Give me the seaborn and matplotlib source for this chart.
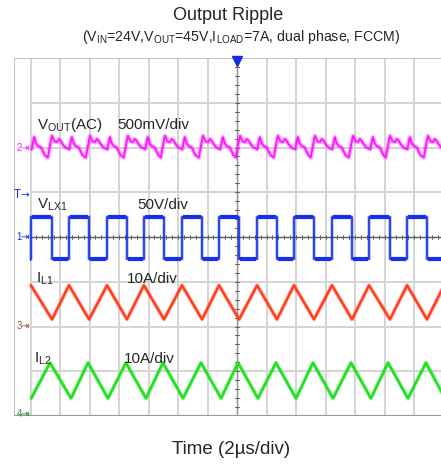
import numpy as np
import pandas as pd
import matplotlib
matplotlib.use("Agg")
import matplotlib.pyplot as plt
import seaborn as sns

# ---------------- data (time in µs, 0 = trigger point) ----------------
vlx1_rise_us = [-13.97, -11.39, -8.81, -6.31, -3.73, -1.22, 1.36, 3.86, 6.44, 8.95, 11.53]
vlx1_fall_us = [-12.54, -10.03, -7.46, -4.95, -2.37, 0.14, 2.71, 5.22, 7.80, 10.37, 12.88]
vlx1_high_v = 22.5
vlx1_low_v = -24.5

il1_peak_us = [-13.97, -11.39, -8.81, -6.31, -3.73, -1.22, 1.36, 3.86, 6.44, 8.95, 11.53, 14.05]
il1_valley_us = [-12.54, -10.03, -7.46, -4.95, -2.37, 0.14, 2.71, 5.22, 7.80, 10.37, 12.88]
il1_peak_a = 9.2
il1_valley_a = 1.6

il2_peak_us = [-12.68, -10.10, -7.53, -5.02, -2.44, 0.07, 2.64, 5.15, 7.73, 10.24, 12.81]
il2_valley_us = [-13.95, -11.25, -8.75, -6.17, -3.66, -1.08, 1.42, 4.00, 6.51, 9.08, 11.59, 14.10]
il2_peak_a = 11.9
il2_valley_a = 3.95

# output ripple: shape of one switching period (offset from each anchor)
ripple_anchor_us = [-15.23, -12.68, -10.10, -7.53, -5.02, -2.44, 0.07, 2.64, 5.15, 7.73, 10.24, 12.81]
ripple_offset_us = [-0.15, 0.10, 0.14, 0.30, 0.47, 0.60, 0.70, 0.85, 1.04, 1.31, 1.45, 1.49, 1.60, 1.72, 1.95, 2.20]
ripple_mv = [-112, 110, 130, 70, 60, 95, 80, 40, 0, -20, 100, 115, 50, 20, 0, -85]

# channel settings: (marker position in divisions, units per division)
ch2_pos, ch2_scale = 6.0, 500.0   # mV/div
ch1_pos, ch1_scale = 4.0, 50.0    # V/div
ch3_pos, ch3_scale = 2.0, 10.0    # A/div
ch4_pos, ch4_scale = 0.0, 10.0    # A/div
trig_level_div = 4.94

T_START, T_END = -14.0, 13.9

# ---------------- build traces ----------------
def triangle(peaks, valleys, vpk, vvl):
    pts = sorted([(t, vpk) for t in peaks] + [(t, vvl) for t in valleys])
    return [p[0] for p in pts], [p[1] for p in pts]

# VLX1 square wave
edges = sorted([(t, vlx1_high_v) for t in vlx1_rise_us] + [(t, vlx1_low_v) for t in vlx1_fall_us])
vt, vv = [T_START], [vlx1_low_v]
lvl = vlx1_low_v
for t, new in edges:
    vt += [t, t]
    vv += [lvl, new]
    lvl = new
vt.append(T_END)
vv.append(lvl)
df_vlx = pd.DataFrame({"t": vt, "y": ch1_pos + np.array(vv) / ch1_scale})

t1, a1 = triangle(il1_peak_us, il1_valley_us, il1_peak_a, il1_valley_a)
df_il1 = pd.DataFrame({"t": t1, "y": ch3_pos + np.array(a1) / ch3_scale})
t2, a2 = triangle(il2_peak_us, il2_valley_us, il2_peak_a, il2_valley_a)
df_il2 = pd.DataFrame({"t": t2, "y": ch4_pos + np.array(a2) / ch4_scale})

rt, rv = [], []
for a in ripple_anchor_us:
    for o, m in zip(ripple_offset_us, ripple_mv):
        rt.append(a + o)
        rv.append(m)
df_rip = pd.DataFrame({"t": rt, "y": ch2_pos + np.array(rv) / ch2_scale})
df_rip = df_rip[(df_rip.t >= T_START) & (df_rip.t <= T_END)]

# ---------------- figure ----------------
sns.set_theme(style="white")
plt.rcParams['font.family'] = ['Liberation Sans', 'DejaVu Sans']
plt.rcParams['mathtext.fontset'] = 'custom'
plt.rcParams['mathtext.rm'] = 'Liberation Sans'
plt.rcParams['mathtext.default'] = 'regular'

W, H = 441, 466
fig = plt.figure(figsize=(W / 100, H / 100), dpi=100)
fig.patch.set_facecolor('white')
ax = fig.add_axes([14 / W, (H - 416) / H, (441 - 14) / W, (416 - 58) / H])
PX_PER_US = 14.75
XLIM = ((14 - 237) / PX_PER_US, (441 - 237) / PX_PER_US)
ax.set_xlim(*XLIM)
ax.set_ylim(0, 8)
ax.axis('off')

xmax = XLIM[1]
grid_c = '#d4d4d4'
for t in range(-14, 15, 2):
    if t != 0:
        ax.vlines(t, 0, 8, color=grid_c, lw=1.4, zorder=1)
for y in range(1, 8):
    if y != 4:
        ax.hlines(y, -14, xmax, color=grid_c, lw=1.4, zorder=1)
# centre axes with minor ticks
ax.vlines(0, 0, 8, color='#8c8c8c', lw=1.0, zorder=2)
ax.hlines(4, -14, xmax, color='#5a5a5a', lw=1.0, zorder=2)
for y in np.arange(0.2, 8.0, 0.2):
    ax.plot([-0.15, 0.15], [y, y], color='#666666', lw=0.8, zorder=2)
for t in np.arange(-13.6, 13.9, 0.4):
    ax.plot([t, t], [3.955, 4.045], color='#666666', lw=0.7, zorder=2)
# frame
x_left = XLIM[0]
ax.vlines(x_left + 0.03, 0, 8, color='#b0b0b0', lw=1.2, zorder=2)
ax.hlines(8, x_left, xmax, color='#b8b8b8', lw=1.2, zorder=2)
ax.hlines(0, x_left, xmax, color='#9a9a9a', lw=1.6, zorder=2)

# traces
blue = '#1430e8'
traces = [
    (df_rip, '#ff14ff', 1.3, 3.2, 0.35),
    (df_vlx, blue, 1.2, 2.6, 0.30),
    (df_il1, '#ff3c1c', 1.7, 3.0, 0.35),
    (df_il2, '#20e020', 1.8, 3.0, 0.35),
]
for df, col, lw, hw, al in traces:
    sns.lineplot(data=df, x="t", y="y", ax=ax, color=col, lw=hw, alpha=al,
                 sort=False, estimator=None, zorder=3)
    sns.lineplot(data=df, x="t", y="y", ax=ax, color=col, lw=lw,
                 sort=False, estimator=None, zorder=4)
# thick fuzzy plateaus of the switch-node trace
for i in range(0, len(vt) - 1):
    if vv[i] == vv[i + 1] and vt[i + 1] > vt[i]:
        ax.hlines(ch1_pos + vv[i] / ch1_scale, vt[i] + 0.05, vt[i + 1] - 0.05,
                  color=blue, lw=3.0, zorder=4)
ax.set_xlim(*XLIM)
ax.set_ylim(0, 8)

# trigger marker
ax.plot([0], [8 - 3 / 44.75], marker='v', color='#1030e0', ms=7, clip_on=False, zorder=6)

def fpx(x, y):
    return x / W, 1 - y / H

# channel markers on the left strip
markers = [("2", 148, '#ff14ff'), ("1", 237, blue), ("3", 326, '#a05040'), ("4", 414, '#2a8a2a')]
for lab, yp, col in markers:
    fig.text(*fpx(22, yp), lab, color=col, fontsize=7, ha='right', va='center')
    fig.text(*fpx(29.5, yp), "\u21e5", color=col, fontsize=7.5, ha='right', va='center',
             family=['DejaVu Sans'])
fig.text(*fpx(21, 195), "T", color=blue, fontsize=8.5, ha='right', va='center')
fig.text(*fpx(29.5, 195), "\u2192", color=blue, fontsize=7.5, ha='right', va='center',
         family=['DejaVu Sans'])

# channel labels
lab_fs = 11
fig.text(*fpx(37, 129), r"$V_{OUT}$(AC)", fontsize=lab_fs, va='baseline', ha='left')
fig.text(*fpx(117, 129), "500mV/div", fontsize=lab_fs, va='baseline', ha='left')
fig.text(*fpx(37, 209), r"$V_{LX1}$", fontsize=lab_fs, va='baseline', ha='left')
fig.text(*fpx(137, 209), "50V/div", fontsize=lab_fs, va='baseline', ha='left')
fig.text(*fpx(36, 283), r"$I_{L1}$", fontsize=lab_fs, va='baseline', ha='left')
fig.text(*fpx(127, 283), "10A/div", fontsize=lab_fs, va='baseline', ha='left')
fig.text(*fpx(34, 363), r"$I_{L2}$", fontsize=lab_fs, va='baseline', ha='left')
fig.text(*fpx(124, 363), "10A/div", fontsize=lab_fs, va='baseline', ha='left')

# titles
fig.text(*fpx(228, 15), "Output Ripple", fontsize=13, ha='center', va='center')
fig.text(*fpx(241, 37), r"($V_{IN}$=24V,$V_{OUT}$=45V,$I_{LOAD}$=7A, dual phase, FCCM)",
         fontsize=10.2, ha='center', va='center')
fig.text(*fpx(231, 449), "Time (2\u00b5s/div)", fontsize=13.5, ha='center', va='center')

fig.savefig("out.png", dpi=100, facecolor='white')
